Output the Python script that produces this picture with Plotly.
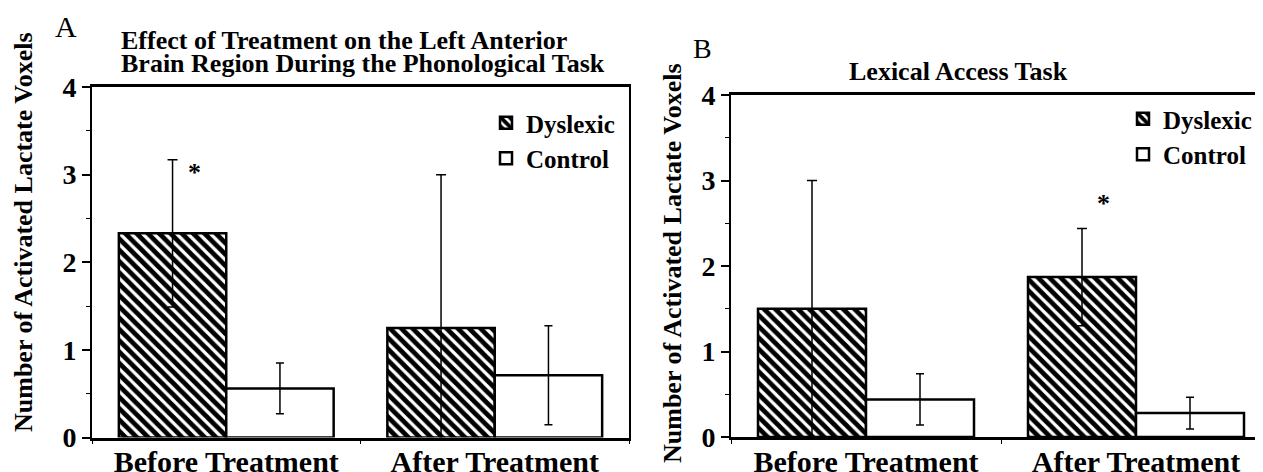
import plotly.graph_objects as go

# ---------------- data ----------------
categories = ["Before Treatment", "After Treatment"]

a_dyslexic = [2.33, 1.25]
a_dyslexic_err = [0.84, 1.75]
a_control = [0.56, 0.71]
a_control_err = [0.29, 0.565]

b_dyslexic = [1.50, 1.87]
b_dyslexic_err = [1.50, 0.57]
b_control = [0.44, 0.28]
b_control_err = [0.30, 0.185]

# significance stars: (x position in category units, y value)
a_star = (-0.12, 3.06)
b_star = (0.88, 2.77)

y_ticks = [0, 1, 2, 3, 4]

FONT = "Liberation Serif"
W, H = 1263, 472
OFF = 8  # page body margin: screen position = paper position + OFF


def px_x(p):
    return (p - OFF) / W


def px_y(p):
    return 1 - (p - OFF) / H


hatch = dict(shape="\\", fgcolor="black", bgcolor="white", size=8, solidity=0.6)

fig = go.Figure()


def add_pair(dys, dys_err, ctl, ctl_err, xa, ya, legend):
    fig.add_trace(go.Bar(
        x=categories, y=dys, name="Dyslexic", xaxis=xa, yaxis=ya, legend=legend,
        marker=dict(color="white", pattern=hatch, line=dict(color="black", width=2.5)),
        error_y=dict(type="data", array=dys_err, visible=True, color="black",
                     thickness=1.5, width=5),
    ))
    fig.add_trace(go.Bar(
        x=categories, y=ctl, name="Control", xaxis=xa, yaxis=ya, legend=legend,
        marker=dict(color="white", line=dict(color="black", width=2.5)),
        error_y=dict(type="data", array=ctl_err, visible=True, color="black",
                     thickness=1.5, width=4),
    ))


add_pair(a_dyslexic, a_dyslexic_err, a_control, a_control_err, "x", "y", "legend")
add_pair(b_dyslexic, b_dyslexic_err, b_control, b_control_err, "x2", "y2", "legend2")

tickfont = dict(family=FONT, size=30, color="black", weight="bold")
ytickfont = dict(family=FONT, size=28, color="black", weight="bold")

xcommon = dict(type="category", showline=True, linewidth=2.5, linecolor="black",
               mirror=True, ticks="outside", tickson="boundaries", ticklen=4,
               tickwidth=1, tickcolor="black", tickfont=tickfont, showgrid=False,
               zeroline=False, fixedrange=True, automargin=False,
               ticklabelstandoff=-4)
ycommon = dict(range=[0, 4], tickvals=y_ticks, showline=True, linewidth=2,
               linecolor="black", ticks="outside", ticklen=8, tickwidth=1.5,
               tickcolor="black", tickfont=ytickfont, showgrid=False, zeroline=False,
               automargin=False,
               minor=dict(dtick=0.5, ticks="outside", ticklen=4, tickwidth=1,
                          tickcolor="black"))

fig.update_layout(
    template="none",
    width=W, height=H, autosize=False,
    margin=dict(l=0, r=0, t=0, b=0, pad=0),
    paper_bgcolor="white", plot_bgcolor="white",
    barmode="group", bargap=0.2, bargroupgap=0,
    font=dict(family=FONT, color="black"),
    xaxis=dict(domain=[px_x(92), px_x(629)], range=[-0.5, 1.5], anchor="y", **xcommon),
    yaxis=dict(domain=[px_y(437.5), px_y(87)], anchor="x", mirror=True, **ycommon),
    xaxis2=dict(domain=[px_x(731), 1.0], range=[-0.5, 1.5], anchor="y2", **xcommon),
    yaxis2=dict(domain=[px_y(437), px_y(95)], anchor="x2", mirror=False, **ycommon),
    legend=dict(x=px_x(486), y=px_y(100), xanchor="left", yanchor="top",
                bgcolor="rgba(0,0,0,0)",
                font=dict(family=FONT, size=25, color="black", weight="bold")),
    legend2=dict(x=px_x(1123), y=px_y(96), xanchor="left", yanchor="top",
                 bgcolor="rgba(0,0,0,0)",
                 font=dict(family=FONT, size=25, color="black", weight="bold")),
    showlegend=True,
)

ann = []
ann.append(dict(text="A", x=px_x(66), y=px_y(26), xref="paper", yref="paper",
                xanchor="center", yanchor="middle",
                showarrow=False, font=dict(family=FONT, size=30, color="black")))
ann.append(dict(text="B", x=px_x(702), y=px_y(48), xref="paper", yref="paper",
                xanchor="center", yanchor="middle",
                showarrow=False, font=dict(family=FONT, size=28, color="black")))
bold26 = dict(family=FONT, size=26, color="black", weight="bold")
ann.append(dict(text="Effect of Treatment on the Left Anterior", x=px_x(119), y=px_y(40),
                xref="paper", yref="paper", xanchor="left", yanchor="middle",
                showarrow=False, font=bold26))
ann.append(dict(text="Brain Region During the Phonological Task", x=px_x(119), y=px_y(63),
                xref="paper", yref="paper", xanchor="left", yanchor="middle",
                showarrow=False, font=bold26))
ann.append(dict(text="Lexical Access Task", x=px_x(958), y=px_y(72),
                xref="paper", yref="paper", xanchor="center", yanchor="middle",
                showarrow=False, font=bold26))
ann.append(dict(text="Number of Activated Lactate Voxels", x=px_x(23), y=px_y(232),
                xref="paper", yref="paper", xanchor="center", yanchor="middle",
                textangle=-90, showarrow=False, font=bold26))
ann.append(dict(text="Number of Activated Lactate Voxels", x=px_x(672), y=px_y(263),
                xref="paper", yref="paper", xanchor="center", yanchor="middle",
                textangle=-90, showarrow=False, font=bold26))
ann.append(dict(text="*", x=a_star[0], y=a_star[1], xref="x", yref="y", showarrow=False,
                yshift=-3, font=dict(family=FONT, size=26, color="black", weight="bold")))
ann.append(dict(text="*", x=b_star[0], y=b_star[1], xref="x2", yref="y2", showarrow=False,
                yshift=-3, font=dict(family=FONT, size=26, color="black", weight="bold")))
fig.update_layout(annotations=ann)

fig.write_html("out.html")
